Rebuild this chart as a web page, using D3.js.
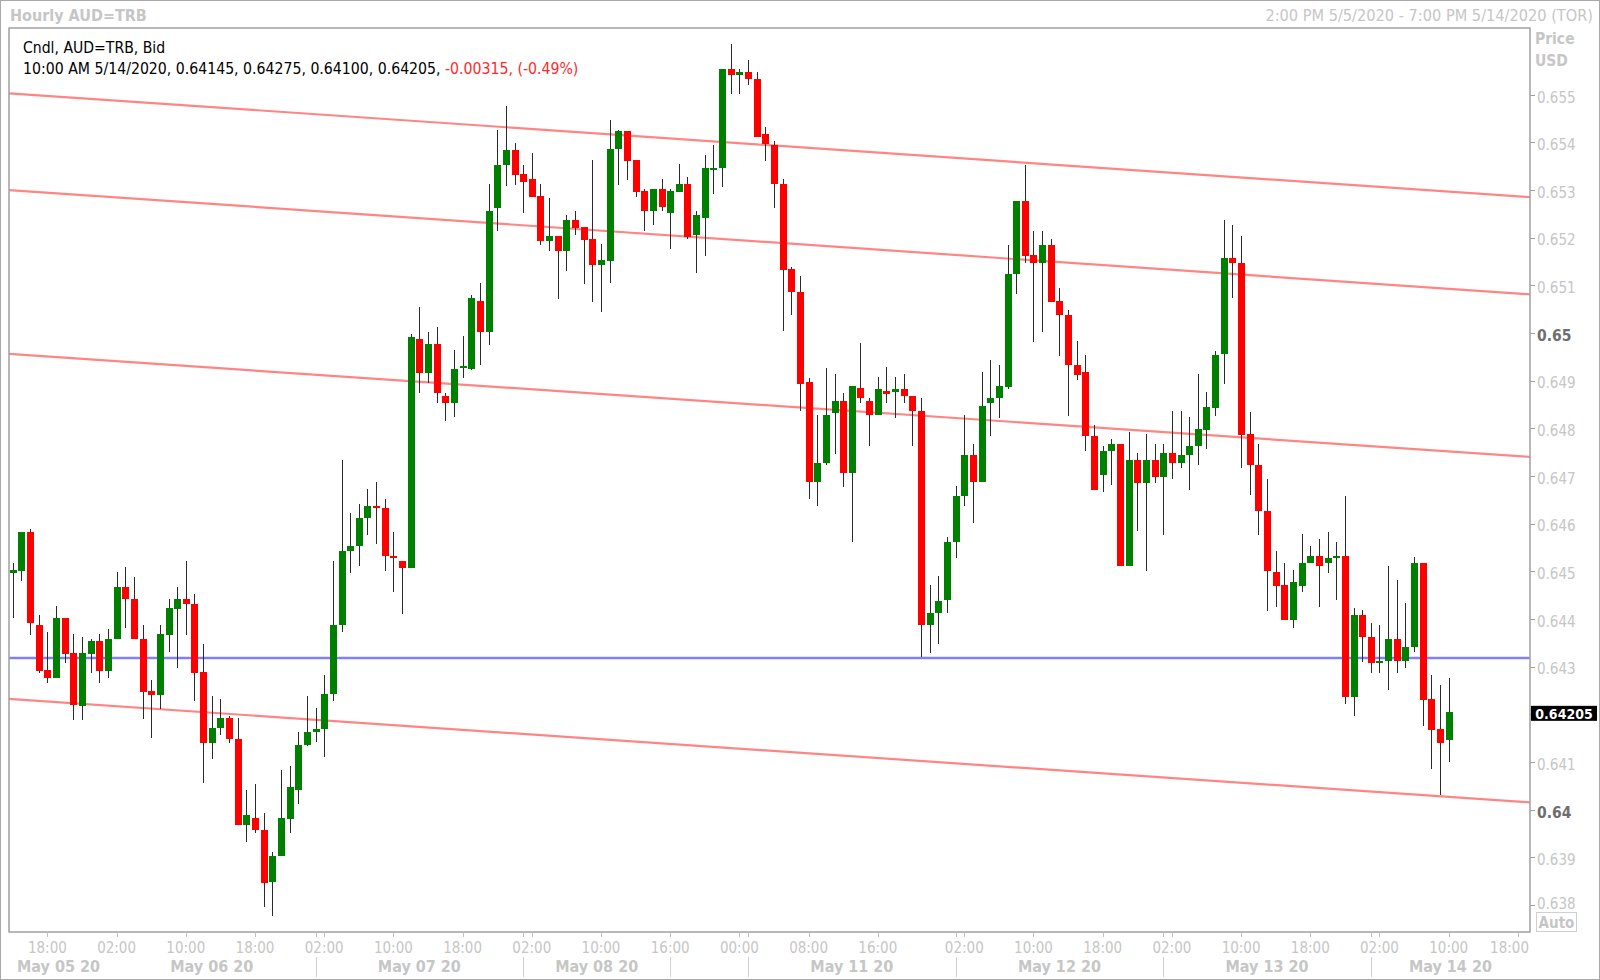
<!DOCTYPE html>
<html><head><meta charset="utf-8">
<script src="https://cdn.jsdelivr.net/npm/d3@7"></script>
<style>
body{margin:0;background:#fff}
svg{display:block}
text{font-family:"DejaVu Sans Condensed","DejaVu Sans",sans-serif}
</style>
</head><body>
<svg id="c" width="1600" height="980"></svg>
<script>
// ---------------- DATA ----------------
const openP = [
.64497,.64501,.64582,.64388,.64292,.64277,.64402,.64328,.64217,.64327,
.64353,.64291,.64357,.64468,.64441,.64357,.64249,.64241,.64367,.64421,
.64442,.64432,.64288,.64140,.64171,.64192,.64147,.63968,.63982,.63957,
.63847,.63903,.63981,.64042,.64136,.64163,.64168,.64242,.64387,.64542,
.64553,.64612,.64637,.64632,.64533,.64522,.64507,.64988,.64916,.64977,
.64868,.64853,.64927,.64925,.65068,.65003,.65263,.65353,.65383,.65333,
.65324,.65287,.65192,.65203,.65171,.65237,.65223,.65198,.65142,.65151,
.65386,.65423,.65363,.65297,.65255,.65303,.65251,.65296,.65313,.65206,
.65242,.65342,.65346,.65555,.65542,.65547,.65533,.65417,.65395,.65313,
.65134,.65087,.64897,.64687,.64727,.64832,.64857,.64707,.64884,.64857,
.64827,.64878,.64877,.64883,.64868,.64837,.64387,.64412,.64440,.64561,
.64657,.64744,.64687,.64853,.64863,.64886,.65123,.65277,.65164,.65147,
.65184,.65068,.65037,.64933,.64918,.64784,.64702,.64753,.64767,.64511,
.64734,.64686,.64734,.64697,.64748,.64727,.64743,.64763,.64797,.64842,
.64956,.65157,.65147,.64788,.64723,.64627,.64498,.64471,.64397,.64470,
.64517,.64532,.64517,.64527,.64532,.64237,.64408,.64362,.64307,.64312,
.64358,.64312,.64341,.64518,.64231,.64168,.64145];
const highP = [
.64518,.64582,.64588,.64409,.64372,.64428,.64402,.64368,.64363,.64357,
.64368,.64378,.64498,.64508,.64488,.64388,.64272,.64388,.64442,.64468,
.64522,.64452,.64348,.64238,.64232,.64196,.64192,.64042,.64053,.63992,
.63911,.64083,.64092,.64163,.64238,.64213,.64283,.64522,.64733,.64622,
.64642,.64672,.64688,.64652,.64583,.64522,.64997,.65055,.65003,.65013,
.64875,.64964,.64994,.65079,.65105,.65313,.65427,.65477,.65399,.65353,
.65377,.65313,.65283,.65203,.65248,.65257,.65223,.65363,.65187,.65447,
.65426,.65423,.65363,.65303,.65303,.65324,.65303,.65354,.65327,.65255,
.65374,.65394,.65555,.65607,.65555,.65573,.65548,.65433,.65402,.65323,
.65138,.65119,.64906,.64828,.64927,.64913,.64874,.64888,.64979,.64863,
.64907,.64928,.64907,.64913,.64868,.64863,.64471,.64489,.64571,.64678,
.64828,.64767,.64918,.64944,.64933,.65184,.65277,.65353,.65213,.65213,
.65197,.65094,.65049,.64984,.64954,.64807,.64763,.64778,.64767,.64793,
.64748,.64788,.64767,.64767,.64837,.64837,.64823,.64914,.64877,.64963,
.65238,.65227,.65204,.64834,.64767,.64693,.64543,.64518,.64503,.64578,
.64552,.64568,.64582,.64562,.64658,.64422,.64419,.64391,.64387,.64512,
.64482,.64433,.64530,.64518,.64282,.64261,.64275];
const lowP = [
.64402,.64479,.64367,.64286,.64266,.64277,.64307,.64187,.64187,.64286,
.64266,.64277,.64357,.64381,.64357,.64191,.64151,.64212,.64330,.64297,
.64367,.64227,.64056,.64107,.64157,.64140,.63968,.63931,.63951,.63796,
.63777,.63903,.63950,.64011,.64133,.64142,.64111,.64227,.64372,.64497,
.64511,.64577,.64557,.64500,.64457,.64411,.64507,.64875,.64896,.64853,
.64816,.64824,.64905,.64922,.64933,.64975,.65213,.65308,.65311,.65251,
.65285,.65185,.65171,.65072,.65131,.65206,.65102,.65066,.65045,.65104,
.65311,.65321,.65285,.65215,.65226,.65256,.65176,.65296,.65198,.65125,
.65162,.65292,.65306,.65501,.65501,.65521,.65412,.65361,.65262,.65005,
.65037,.64836,.64651,.64637,.64723,.64746,.64676,.64561,.64853,.64763,
.64827,.64853,.64822,.64853,.64763,.64321,.64328,.64347,.64412,.64527,
.64637,.64601,.64687,.64783,.64822,.64882,.65082,.65147,.64982,.65002,
.65066,.64952,.64826,.64902,.64753,.64671,.64666,.64680,.64511,.64511,
.64585,.64501,.64686,.64576,.64693,.64716,.64671,.64722,.64756,.64826,
.64893,.65073,.64716,.64660,.64576,.64417,.64426,.64397,.64380,.64456,
.64517,.64426,.64496,.64440,.64221,.64196,.64310,.64286,.64286,.64250,
.64286,.64296,.64330,.64175,.64086,.64030,.64100];
const closeP = [
.64502,.64582,.64391,.64291,.64277,.64402,.64327,.64220,.64328,.64353,
.64291,.64358,.64468,.64441,.64357,.64247,.64241,.64368,.64423,.64442,
.64431,.64286,.64140,.64172,.64192,.64147,.63968,.63989,.63957,.63846,
.63903,.63983,.64047,.64136,.64163,.64168,.64242,.64387,.64542,.64553,
.64612,.64637,.64632,.64531,.64527,.64507,.64991,.64916,.64977,.64874,
.64853,.64924,.64930,.65074,.65003,.65257,.65353,.65383,.65332,.65316,
.65285,.65192,.65203,.65171,.65237,.65221,.65195,.65142,.65153,.65387,
.65423,.65361,.65296,.65255,.65303,.65265,.65298,.65313,.65202,.65248,
.65347,.65347,.65555,.65542,.65547,.65533,.65412,.65397,.65313,.65133,
.65087,.64892,.64687,.64727,.64828,.64857,.64707,.64888,.64863,.64827,
.64883,.64873,.64883,.64867,.64836,.64387,.64412,.64437,.64561,.64657,
.64744,.64687,.64847,.64863,.64888,.65123,.65277,.65162,.65147,.65184,
.65066,.65037,.64933,.64912,.64783,.64671,.64753,.64767,.64511,.64734,
.64686,.64734,.64697,.64748,.64727,.64743,.64763,.64798,.64844,.64954,
.65157,.65147,.64786,.64723,.64627,.64501,.64470,.64397,.64477,.64517,
.64532,.64510,.64527,.64532,.64237,.64408,.64361,.64307,.64312,.64358,
.64312,.64342,.64518,.64230,.64167,.64140,.64205];

// time-axis ticks (candle index -> label)
const xTickIdx = [4,12,20,28,36,44,52,60,68,76,84,92,100,110,118,126,134,142,150,158,166,174];
const xTickLbl = ["18:00","02:00","10:00","18:00","02:00","10:00","18:00","02:00","10:00","16:00","00:00","08:00","16:00","02:00","10:00","18:00","02:00","10:00","18:00","02:00","10:00","18:00"];
// day boundaries (candle index) and day labels between them
const dayBounds = [11,35,59,76,85,109,133,157];
const daySeparators = [35,59,76,85,109,133,157];
const dayLabels = ["May 05 20","May 06 20","May 07 20","May 08 20","","May 11 20","May 12 20","May 13 20","May 14 20"];
// price axis
const yTicks = [0.638,0.639,0.640,0.641,0.642,0.643,0.644,0.645,0.646,0.647,0.648,0.649,0.650,0.651,0.652,0.653,0.654,0.655];
const yTickLbl = ["0.638","0.639","0.64","0.641","0.642","0.643","0.644","0.645","0.646","0.647","0.648","0.649","0.65","0.651","0.652","0.653","0.654","0.655"];
const yMajor = ["0.64","0.65"];
// drawn lines: channel (start/end price), horizontal level
const channelIdx = [-0.44, 175.4];
const channelStart = [0.65503, 0.65300, 0.64956, 0.64232];
const channelEnd   = [0.65285, 0.65081, 0.64740, 0.64015];
const levelPrice = 0.64318;
// header texts
const titleText = "Hourly AUD=TRB";
const rangeText = "2:00 PM 5/5/2020 - 7:00 PM 5/14/2020 (TOR)";
const legendLine1 = "Cndl, AUD=TRB, Bid";
const legendTime = "10:00 AM 5/14/2020";
const legendChange = "-0.00315, (-0.49%)";

// ---------------- LAYOUT ----------------
const W = 1600, H = 980;
const P = {l: 9, t: 28, r: 1530, b: 932};
const svg = d3.select("#c");
const x = d3.scaleLinear().domain([-0.44, 175.4]).range([P.l, P.r]);
const y = d3.scaleLinear().domain([0.63743, 0.65640]).range([P.b, P.t]);
const LG = "#c6c6c6";

svg.append("rect").attr("width", W).attr("height", H).attr("fill", "#fff");
svg.append("rect").attr("x", 0.5).attr("y", 0.5).attr("width", W - 1).attr("height", H - 1)
  .attr("fill", "none").attr("stroke", "#a8a8a8");

// header
svg.append("text").attr("x", 10).attr("y", 21).attr("font-size", 16).attr("font-weight", "bold")
  .attr("fill", LG).text(titleText);
svg.append("text").attr("x", 1593).attr("y", 21).attr("font-size", 16.2).attr("text-anchor", "end")
  .attr("fill", LG).text(rangeText);
svg.append("text").attr("x", 1535).attr("y", 44).attr("font-size", 15.5).attr("font-weight", "bold")
  .attr("fill", LG).text("Price");
svg.append("text").attr("x", 1535).attr("y", 66).attr("font-size", 15.5).attr("font-weight", "bold")
  .attr("fill", LG).text("USD");

// clip
svg.append("clipPath").attr("id", "pc").append("rect")
  .attr("x", P.l).attr("y", P.t).attr("width", P.r - P.l).attr("height", P.b - P.t);
const g = svg.append("g").attr("clip-path", "url(#pc)");

// channel lines
channelStart.forEach((s, k) => {
  g.append("line")
    .attr("x1", x(channelIdx[0])).attr("y1", y(s))
    .attr("x2", x(channelIdx[1])).attr("y2", y(channelEnd[k]))
    .attr("stroke", "#ff8585").attr("stroke-width", 2.2);
});
g.append("line").attr("x1", P.l).attr("x2", P.r)
  .attr("y1", y(levelPrice)).attr("y2", y(levelPrice))
  .attr("stroke", "#8080ff").attr("stroke-width", 2.5);

// candles
const candles = openP.map((o, i) => ({i, o, h: highP[i], l: lowP[i], c: closeP[i]}));
const cg = g.append("g").attr("shape-rendering", "crispEdges");
cg.selectAll("line.w").data(candles).join("line").attr("class", "w")
  .attr("x1", d => Math.round(x(d.i)) + 0.5).attr("x2", d => Math.round(x(d.i)) + 0.5)
  .attr("y1", d => y(d.h)).attr("y2", d => y(d.l))
  .attr("stroke", "#2a2a2a").attr("stroke-width", 1);
cg.selectAll("rect.b").data(candles).join("rect").attr("class", "b")
  .attr("x", d => Math.round(x(d.i)) - 3)
  .attr("width", 7)
  .attr("y", d => y(Math.max(d.o, d.c)))
  .attr("height", d => Math.max(2, Math.abs(y(d.o) - y(d.c))))
  .attr("fill", d => d.c >= d.o ? "#008000" : "#ff0000");

// plot frame
svg.append("rect").attr("x", P.l).attr("y", P.t).attr("width", P.r - P.l).attr("height", P.b - P.t)
  .attr("fill", "none").attr("stroke", "#a0a0a0").attr("stroke-width", 1.5);

// y axis
const lastClose = closeP[closeP.length - 1];
const yAx = svg.append("g");
yTicks.forEach((v, k) => {
  const yy = Math.round(y(v)) + 0.5;
  yAx.append("line").attr("x1", P.r).attr("x2", P.r + 5).attr("y1", yy).attr("y2", yy)
    .attr("stroke", "#a0a0a0");
  if (Math.abs(y(v) - y(lastClose)) < 9) return;
  const major = yMajor.includes(yTickLbl[k]);
  yAx.append("text").attr("x", 1537).attr("y", Math.min(y(v), 901)).attr("dy", "0.52em")
    .attr("font-size", major ? 15.5 : 15).attr("font-weight", major ? "bold" : "normal")
    .attr("fill", major ? "#6e6e6e" : LG).text(yTickLbl[k]);
});
// last price tag
const fmt = d3.format(".5f");
yAx.append("rect").attr("x", P.r + 1).attr("y", y(lastClose) - 6).attr("width", 66).attr("height", 15)
  .attr("fill", "#000");
yAx.append("text").attr("x", P.r + 34).attr("y", y(lastClose) + 2).attr("dy", "0.36em")
  .attr("text-anchor", "middle").attr("font-size", 14).attr("font-weight", "bold")
  .attr("fill", "#fff").text(fmt(lastClose));
// Auto button
svg.append("rect").attr("x", 1536.5).attr("y", 912.5).attr("width", 40).attr("height", 19)
  .attr("fill", "#fff").attr("stroke", "#d0d0d0");
svg.append("text").attr("x", 1556.5).attr("y", 927.5).attr("text-anchor", "middle")
  .attr("font-size", 15).attr("font-weight", "bold").attr("fill", LG).text("Auto");

// x axis
const xAx = svg.append("g");
xTickIdx.forEach((ix, k) => {
  const xx = Math.round(x(ix)) + 0.5;
  xAx.append("line").attr("x1", xx).attr("x2", xx).attr("y1", P.b).attr("y2", P.b + 5)
    .attr("stroke", "#c0c0c0");
  const t = xAx.append("text").attr("x", x(ix)).attr("y", 953).attr("text-anchor", "middle")
    .attr("font-size", 15).attr("fill", LG).text(xTickLbl[k]);
  const hw = t.node().getComputedTextLength() / 2;
  if (x(ix) + hw > P.r - 1) t.attr("x", P.r - 1 - hw);
});
daySeparators.forEach(ix => {
  const xx = Math.round(x(ix)) + 0.5;
  xAx.append("line").attr("x1", xx).attr("x2", xx).attr("y1", P.b).attr("y2", P.b + 5)
    .attr("stroke", "#c0c0c0");
  xAx.append("line").attr("x1", xx).attr("x2", xx).attr("y1", 957).attr("y2", 977)
    .attr("stroke", "#d0d0d0");
});
const edges = [channelIdx[0]].concat(dayBounds).concat([channelIdx[1]]);
dayLabels.forEach((lb, k) => {
  if (!lb) return;
  xAx.append("text").attr("x", x((edges[k] + edges[k + 1]) / 2)).attr("y", 972)
    .attr("text-anchor", "middle").attr("font-size", 16).attr("font-weight", "bold")
    .attr("fill", LG).text(lb);
});

// legend
svg.append("text").attr("x", 23).attr("y", 53).attr("font-size", 15.6).attr("fill", "#000").text(legendLine1);
const last = candles[candles.length - 1];
const lt = svg.append("text").attr("x", 23).attr("y", 74).attr("font-size", 15.7);
lt.append("tspan").attr("fill", "#000")
  .text(legendTime + ", " + [last.o, last.h, last.l, last.c].map(fmt).join(", ") + ", ");
lt.append("tspan").attr("fill", "#ff2a2a").text(legendChange);
</script>
</body></html>
